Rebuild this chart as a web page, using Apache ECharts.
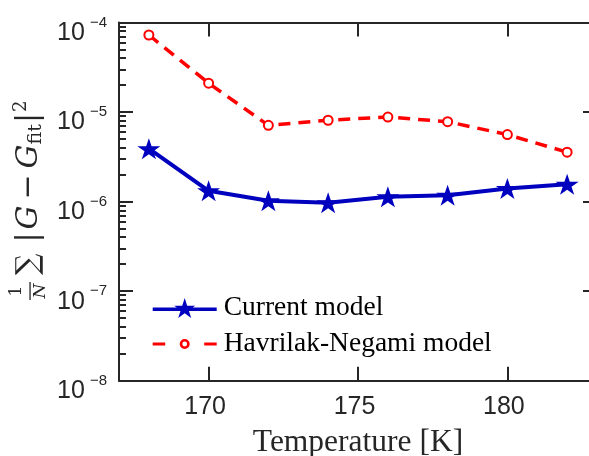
<!DOCTYPE html>
<html>
<head>
<meta charset="utf-8">
<script src="https://cdn.jsdelivr.net/npm/echarts@6/dist/echarts.min.js"></script>
<style>
  html, body { margin: 0; padding: 0; background: #fff; overflow: hidden; }
  #chart { width: 589px; height: 456px; }
</style>
</head>
<body>
<div id="chart"></div>
<script>
const temps = [168, 170, 172, 174, 176, 178, 180, 182]
const currentModel = [3.9e-6, 1.32e-6, 1.02e-6, 0.97e-6, 1.13e-6, 1.18e-6, 1.40e-6, 1.56e-6]
const hnModel = [7.25e-5, 2.1e-5, 7.1e-6, 8.1e-6, 8.8e-6, 7.8e-6, 5.6e-6, 3.56e-6]

const xTicks = [170, 175, 180]
const yExponents = [-8, -7, -6, -5, -4]
const seriesNames = ['Current model', 'Havrilak-Negami model']

const axisColor = '#262626'
const blue = '#0000bf'
const red = '#ff0000'
const tickLen = 14

// minor ticks at 2..9 x 10^e
const minorTicks = []
yExponents.slice(0, -1).forEach(e => {
  for (let m = 2; m <= 9; m++) minorTicks.push(m * Math.pow(10, e))
})

const starPath = 'path://M0,-10L2.245,-3.09L9.511,-3.09L3.633,1.18L5.878,8.09L0,3.82L-5.878,8.09L-3.633,1.18L-9.511,-3.09L-2.245,-3.09Z'
const starLegend = 'path://M0,9.5L64,9.5L64,13L0,13Z' +
  'M32,0L34.47,7.6L42.46,7.6L36,12.3L38.47,19.9L32,15.2L25.53,19.9L28,12.3L21.54,7.6L29.53,7.6Z'
const ringLegend = 'path://M0,9.5L12.5,9.5L12.5,12.5L0,12.5Z' +
  'M32,6A5,5 0 1 1 32,16A5,5 0 1 1 32,6Z' +
  'M32,8.6A2.4,2.4 0 1 0 32,13.4A2.4,2.4 0 1 0 32,8.6Z' +
  'M51.5,9.5L64,9.5L64,12.5L51.5,12.5Z'

const chart = echarts.init(document.getElementById('chart'))

const xBase = {
  type: 'value',
  min: 167,
  max: 183,
  splitLine: { show: false },
  axisLine: { onZero: false, lineStyle: { color: axisColor, width: 2 } },
  axisTick: { inside: true, length: tickLen, customValues: xTicks, lineStyle: { color: axisColor, width: 2 } }
}

const yBase = {
  type: 'log',
  logBase: 10,
  min: 1e-8,
  max: 1e-4,
  splitNumber: 4,
  splitLine: { show: false },
  axisLine: { onZero: false, lineStyle: { color: axisColor, width: 2 } },
  axisTick: { inside: true, length: tickLen, lineStyle: { color: axisColor, width: 2 } }
}

chart.setOption({
  animation: false,
  backgroundColor: '#fff',
  grid: { left: 119, right: -8, top: 22.5, bottom: 75.3, containLabel: false, outerBoundsMode: 'none' },
  xAxis: [
    Object.assign({}, xBase, {
      position: 'bottom',
      name: 'Temperature [K]',
      nameLocation: 'middle',
      nameGap: 46,
      nameTextStyle: { fontFamily: 'Liberation Serif', fontSize: 31.5, color: axisColor },
      axisLabel: {
        customValues: xTicks,
        margin: 14,
        padding: [0, 7, 0, 0],
        fontFamily: 'Liberation Sans',
        fontSize: 25,
        color: axisColor
      }
    }),
    Object.assign({}, xBase, { position: 'top', axisLabel: { show: false } })
  ],
  yAxis: [
    Object.assign({}, yBase, {
      position: 'left',
      axisLabel: {
        margin: 12,
        padding: [10, 0, 0, 0],
        color: axisColor,
        formatter: v => '{b|10}{s|' + String(Math.round(Math.log10(v))).replace('-', '\u2212') + '}',
        rich: {
          b: { fontFamily: 'Liberation Sans', fontSize: 25, verticalAlign: 'middle', padding: [11, 0, 0, 0], color: axisColor },
          s: { fontFamily: 'Liberation Sans', fontSize: 15, verticalAlign: 'middle', padding: [0, 0, 10, 5], color: axisColor }
        }
      }
    }),
    Object.assign({}, yBase, { position: 'right', axisLabel: { show: false } }),
    // helper axis that only carries the minor decade ticks
    Object.assign({}, yBase, {
      position: 'left',
      axisLine: { show: false, onZero: false },
      axisLabel: { show: false },
      axisTick: { show: true, inside: true, length: 7, customValues: minorTicks, lineStyle: { color: axisColor, width: 2 } }
    })
  ],
  legend: {
    orient: 'vertical',
    left: 147.7,
    top: 289,
    itemWidth: 64,
    itemHeight: 22,
    itemGap: 8,
    itemStyle: { borderWidth: 0 },
    textStyle: { fontFamily: 'Liberation Serif', fontSize: 27.5, lineHeight: 24, color: '#000', padding: [0, 0, 0, 2] },
    data: [
      { name: seriesNames[0], icon: starLegend, itemStyle: { color: blue } },
      { name: seriesNames[1], icon: ringLegend, itemStyle: { color: red } }
    ]
  },
  series: [
    {
      name: seriesNames[0],
      type: 'line',
      data: temps.map((t, i) => [t, currentModel[i]]),
      symbol: starPath,
      symbolSize: [23, 21],
      symbolKeepAspect: false,
      itemStyle: { color: blue },
      lineStyle: { color: blue, width: 4 },
      z: 3
    },
    {
      name: seriesNames[1],
      type: 'line',
      data: temps.map((t, i) => [t, hnModel[i]]),
      symbol: 'emptyCircle',
      symbolSize: 9,
      itemStyle: { color: red, borderWidth: 3 },
      lineStyle: { color: red, width: 3.5, type: [12, 8] },
      z: 2
    }
  ]
})

// y label built from pieces (fraction + rich text), rotated
const labelFont = 'DejaVu Serif'
chart.setOption({
  graphic: [
    {
      type: 'text', x: 17, y: 291, rotation: Math.PI / 2,
      style: { text: '1', fontFamily: labelFont, fontSize: 17, fill: axisColor, align: 'center', verticalAlign: 'middle' }
    },
    {
      type: 'rect', shape: { x: 29.4, y: 282, width: 1.3, height: 18 },
      style: { fill: axisColor }
    },
    {
      type: 'text', x: 41, y: 291, rotation: Math.PI / 2,
      style: { text: 'N', fontFamily: labelFont, fontStyle: 'italic', fontSize: 17, fill: axisColor, align: 'center', verticalAlign: 'middle' }
    },
    {
      type: 'text', x: 29, y: 275, rotation: Math.PI / 2,
      style: {
        text: '{s|∑}{a||}{i|G}{o|−}{i|G}{b|fit}{m||}{p|2}',
        align: 'left',
        verticalAlign: 'middle',
        fill: axisColor,
        rich: {
          s: { fontFamily: labelFont, fontSize: 30, verticalAlign: 'middle', padding: [0, 8, 0, 0], fill: axisColor },
          a: { fontFamily: labelFont, fontSize: 30, verticalAlign: 'middle', padding: [0, 3, 0, 3], fill: axisColor },
          m: { fontFamily: labelFont, fontSize: 30, verticalAlign: 'middle', fill: axisColor },
          o: { fontFamily: labelFont, fontSize: 30, verticalAlign: 'middle', padding: [0, 6, 0, 6], fill: axisColor },
          i: { fontFamily: labelFont, fontStyle: 'italic', fontSize: 30, verticalAlign: 'middle', fill: axisColor },
          b: { fontFamily: labelFont, fontSize: 19, verticalAlign: 'middle', padding: [14, 1, 0, 0], fill: axisColor },
          p: { fontFamily: labelFont, fontSize: 18, verticalAlign: 'middle', padding: [0, 0, 16, 1], fill: axisColor }
        }
      }
    }
  ]
})
</script>
</body>
</html>
